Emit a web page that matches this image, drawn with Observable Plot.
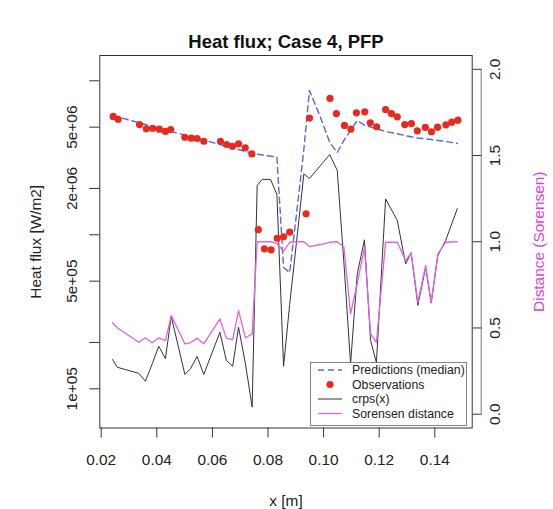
<!DOCTYPE html>
<html><head><meta charset="utf-8">
<script src="https://cdn.jsdelivr.net/npm/d3@7"></script>
<script src="https://cdn.jsdelivr.net/npm/@observablehq/plot@0.6"></script>
<style>
body{margin:0;background:#fff;}
#wrap{position:relative;width:553px;height:509px;font-family:"Liberation Sans",Arial,Helvetica,sans-serif;}
#wrap svg{position:absolute;left:0;top:0;}
</style></head><body><div id="wrap"></div>
<script>
// ---- data ----
const modelX = [0.0241,0.0258,0.0335,0.0359,0.0384,0.0407,0.0431,0.0452,0.0501,0.0521,0.0545,0.0569,0.0627,0.0650,0.0673,0.0694,0.0719,0.0743,0.0761,0.0779,0.0809,0.0832,0.0856,0.0878,0.0911,0.0929,0.0949,0.0989,0.1022,0.1049,0.1073,0.1097,0.1121,0.1147,0.1169,0.1190,0.1223,0.1265,0.1295,0.1315,0.1339,0.1367,0.1387,0.1411,0.1439,0.1481];
const predMedian = [5.95e6,5.84e6,5.35e6,5.20e6,5.07e6,4.93e6,4.81e6,4.69e6,4.44e6,4.35e6,4.23e6,4.12e6,3.86e6,3.76e6,3.66e6,3.58e6,3.48e6,3.39e6,3.34e6,3.30e6,3.24e6,3.20e6,6.14e5,5.69e5,1.85e6,3.58e6,8.65e6,5.78e6,3.98e6,3.42e6,4.10e6,4.76e6,5.52e6,5.16e6,5.01e6,4.88e6,4.69e6,4.53e6,4.40e6,4.33e6,4.25e6,4.20e6,4.16e6,4.10e6,4.04e6,3.92e6];
const crps = [1.55e5,1.38e5,1.26e5,1.12e5,1.46e5,1.89e5,1.57e5,2.95e5,1.24e5,1.35e5,1.62e5,1.24e5,2.33e5,1.53e5,1.40e5,2.51e5,1.45e5,7.6e4,2.09e6,2.29e6,2.29e6,1.83e6,1.40e5,3.53e5,1.24e6,2.49e6,2.32e6,2.82e6,3.32e6,2.62e6,6.6e5,1.45e5,5.58e5,9.28e5,2.06e5,1.48e5,1.71e6,1.24e6,6.48e5,7.64e5,3.48e5,6.16e5,3.60e5,7.34e5,9.18e5,1.48e6];
const sorensen = [0.530,0.501,0.417,0.443,0.414,0.443,0.427,0.572,0.408,0.414,0.441,0.408,0.553,0.441,0.432,0.601,0.443,0.466,1.0,1.0,1.0,0.99,0.946,0.997,1.0,1.0,0.972,0.984,0.997,1.0,0.969,0.582,0.757,0.966,0.466,0.417,0.997,0.997,0.890,0.936,0.649,0.862,0.649,0.930,0.997,1.0];
const obsX = [0.0243,0.0261,0.0338,0.0362,0.0385,0.0409,0.0431,0.0450,0.0501,0.0524,0.0545,0.0569,0.0629,0.0651,0.0672,0.0694,0.0718,0.0742,0.0765,0.0787,0.0811,0.0833,0.0856,0.0878,0.0937,0.0949,0.1023,0.1046,0.1075,0.1098,0.1118,0.1148,0.1168,0.1191,0.1223,0.1244,0.1265,0.1292,0.1316,0.1337,0.1366,0.1388,0.1410,0.1440,0.1461,0.1483];
const obsHeatFlux = [5.87e6,5.63e6,5.20e6,4.88e6,4.92e6,4.85e6,4.69e6,4.83e6,4.30e6,4.24e6,4.22e6,4.05e6,4.05e6,3.86e6,3.76e6,3.90e6,3.67e6,3.35e6,1.08e6,8.11e5,7.99e5,9.50e5,9.70e5,1.04e6,1.37e6,5.73e6,7.68e6,6.13e6,5.13e6,4.86e6,6.20e6,6.29e6,5.34e6,5.03e6,6.51e6,6.13e6,5.84e6,5.20e6,5.28e6,4.74e6,4.98e6,4.67e6,5.00e6,5.18e6,5.39e6,5.55e6];
const xTicks = [0.02,0.04,0.06,0.08,0.10,0.12,0.14];
const xTickLabels = ["0.02","0.04","0.06","0.08","0.10","0.12","0.14"];
const yTicks = [1e5,2e5,5e5,1e6,2e6,5e6,1e7];
const yTickLabels = ["1e+05","","5e+05","","2e+06","5e+06",""];
const sorTicks = [0,0.5,1,1.5,2];
const sorTickLabels = ["0.0","0.5","1.0","1.5","2.0"];
const legendLabels = ["Predictions (median)","Observations","crps(x)","Sorensen distance"];
const titleText = "Heat flux; Case 4, PFP";
const xLabel = "x [m]";
const yLabel = "Heat flux [W/m2]";
const y2Label = "Distance (Sorensen)";

// ---- styles ----
const FONT = '"Liberation Sans", Arial, Helvetica, sans-serif';
const C = {pred:"#5a64e6", obs:"#e8291f", crps:"#333333", sor:"#e063e6", sorText:"#e03ce0", ink:"#222"};

const idx = d3.range(modelX.length);
const obsIdx = d3.range(obsX.length);
const xDomain = [0.019496, 0.153453];
const common = {
  width:553, height:509,
  marginTop:55, marginLeft:99.3, marginRight:81.3, marginBottom:81.5,
  style:{fontFamily:FONT, fontSize:"15.4px", color:C.ink, background:"transparent", overflow:"visible"}
};

const plotA = Plot.plot({
  ...common,
  x:{type:"linear", domain:xDomain},
  y:{type:"log", domain:[55660, 1.46e7]},
  marks:[
    Plot.frame({stroke:"#333", strokeWidth:1}),
    Plot.line(idx, {x:i=>modelX[i], y:i=>predMedian[i], stroke:C.pred, strokeWidth:1.4, strokeDasharray:"6,4"}),
    Plot.line(idx, {x:i=>modelX[i], y:i=>crps[i], stroke:C.crps, strokeWidth:1}),
    Plot.dot(obsIdx, {x:i=>obsX[i], y:i=>obsHeatFlux[i], r:3.6, fill:C.obs, stroke:null}),
    Plot.axisX({ticks:xTicks, tickSize:10, tickFormat:()=>"", stroke:"#333"}),
    Plot.text(xTicks, {x:d=>d, text:(d,i)=>xTickLabels[i], frameAnchor:"bottom", dy:32.5, lineAnchor:"middle", fill:C.ink, fontSize:15.4}),
    Plot.axisY({ticks:yTicks, tickSize:10, tickFormat:()=>"", stroke:"#333"}),
    Plot.text(yTicks, {y:d=>d, text:(d,i)=>yTickLabels[i], frameAnchor:"left", dx:-27.6, rotate:-90, textAnchor:"middle", lineAnchor:"middle", fill:C.ink, fontSize:15.4}),
    Plot.text([yLabel], {text:d=>d, frameAnchor:"left", dx:-64, rotate:-90, textAnchor:"middle", lineAnchor:"middle", fill:C.ink, fontSize:15.4}),
    Plot.text([xLabel], {text:d=>d, frameAnchor:"bottom", dy:73.5, lineAnchor:"middle", fill:C.ink, fontSize:15.4}),
    Plot.text([titleText], {text:d=>d, frameAnchor:"top", dy:-13, lineAnchor:"middle", fontWeight:"bold", fontSize:18.5, fill:"#111"})
  ]
});

const plotB = Plot.plot({
  ...common,
  x:{type:"linear", domain:xDomain, axis:null},
  y:{type:"linear", domain:[-0.08, 2.08]},
  marks:[
    Plot.line(idx, {x:i=>modelX[i], y:i=>sorensen[i], stroke:C.sor, strokeWidth:1.3}),
    Plot.axisY({anchor:"right", ticks:sorTicks, tickSize:9, tickFormat:()=>"", stroke:"#333"}),
    Plot.ruleX([xDomain[1]], {y1:sorTicks[0], y2:sorTicks[sorTicks.length-1], dx:9, stroke:"#555", strokeWidth:0.8}),
    Plot.text(sorTicks, {y:d=>d, text:(d,i)=>sorTickLabels[i], frameAnchor:"right", dx:23.3, rotate:-90, textAnchor:"middle", lineAnchor:"middle", fill:C.ink, fontSize:15.4}),
    Plot.text([y2Label], {text:d=>d, frameAnchor:"right", dx:66.6, rotate:-90, textAnchor:"middle", lineAnchor:"middle", fill:C.sorText, fontSize:15.4})
  ]
});

const wrap = document.getElementById("wrap");
wrap.appendChild(plotA);
wrap.appendChild(plotB);

// ---- legend (HTML/SVG overlay) ----
const lg = d3.select(wrap).append("svg")
  .attr("width",553).attr("height",509)
  .style("position","absolute").style("left","0px").style("top","0px")
  .style("font-family",FONT);
const box = {x:310, y:362, w:156, h:63};
lg.append("rect").attr("x",box.x+0.5).attr("y",box.y+0.5).attr("width",box.w).attr("height",box.h)
  .attr("fill","#fff").attr("stroke","#666").attr("stroke-width",0.8);
const rowY = i => 370 + i*14.5;
const sym = [
  g => g.append("line").attr("x1",318).attr("x2",342).attr("stroke",C.pred).attr("stroke-width",1.4).attr("stroke-dasharray","6,4"),
  g => g.append("circle").attr("cx",330).attr("r",3.6).attr("fill",C.obs),
  g => g.append("line").attr("x1",318).attr("x2",342).attr("stroke",C.crps).attr("stroke-width",1),
  g => g.append("line").attr("x1",318).attr("x2",342).attr("stroke",C.sor).attr("stroke-width",1.3)
];
legendLabels.forEach((lab,i) => {
  const g = lg.append("g").attr("transform",`translate(0,${rowY(i)})`);
  sym[i](g);
  g.append("text").attr("x",352).attr("dy","0.35em").attr("font-size","12.3px").attr("fill",C.ink).text(lab);
});
</script>
</body></html>
